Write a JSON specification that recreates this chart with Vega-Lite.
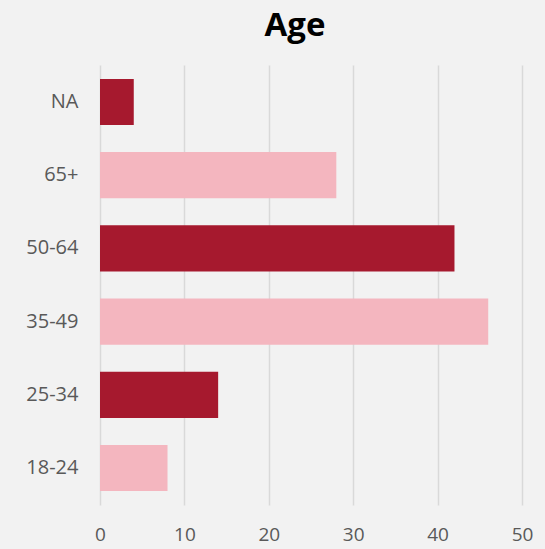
{
  "$schema": "https://vega.github.io/schema/vega-lite/v6.json",
  "width": 422,
  "height": 440,
  "autosize": {"type": "none"},
  "padding": {"left": 100, "top": 65, "right": 23, "bottom": 44},
  "background": "#F2F2F2",
  "title": {
    "text": "Age",
    "font": "Open Sans",
    "fontSize": 33,
    "fontWeight": "bold",
    "color": "#000000",
    "anchor": "middle",
    "dx": -16,
    "offset": 22
  },
  "data": {
    "values": [
      {"age": "18-24", "count": 8},
      {"age": "25-34", "count": 14},
      {"age": "35-49", "count": 46},
      {"age": "50-64", "count": 42},
      {"age": "65+", "count": 28},
      {"age": "NA", "count": 4}
    ]
  },
  "mark": {"type": "bar"},
  "encoding": {
    "y": {
      "field": "age",
      "type": "nominal",
      "sort": ["NA", "65+", "50-64", "35-49", "25-34", "18-24"],
      "scale": {"paddingInner": 0.37, "paddingOuter": 0.19},
      "axis": {
        "title": null,
        "domain": false,
        "ticks": false,
        "labelPadding": 22,
        "labelFont": "Open Sans",
        "labelFontSize": 20,
        "labelColor": "#595959"
      }
    },
    "x": {
      "field": "count",
      "type": "quantitative",
      "scale": {"domain": [0, 50], "nice": false},
      "axis": {
        "title": null,
        "values": [0, 10, 20, 30, 40, 50],
        "domain": false,
        "ticks": false,
        "labelFlush": false,
        "labelPadding": 20,
        "labelFont": "Open Sans",
        "labelFontSize": 19,
        "labelColor": "#595959",
        "gridColor": "#D9D9D9",
        "gridWidth": 1.5
      }
    },
    "color": {
      "field": "age",
      "type": "nominal",
      "legend": null,
      "scale": {
        "domain": ["18-24", "25-34", "35-49", "50-64", "65+", "NA"],
        "range": ["#F4B6BF", "#A6192E", "#F4B6BF", "#A6192E", "#F4B6BF", "#A6192E"]
      }
    }
  },
  "config": {"view": {"stroke": null}}
}
